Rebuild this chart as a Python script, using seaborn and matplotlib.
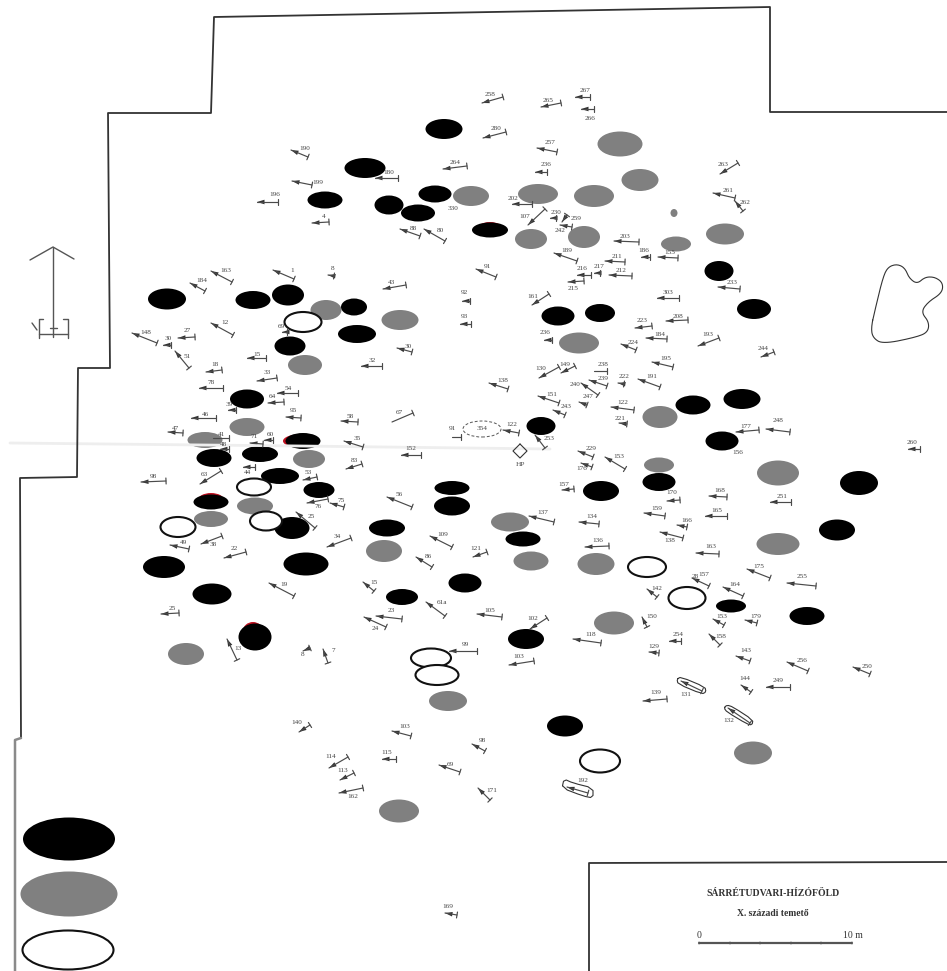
import numpy as np
import pandas as pd
import matplotlib.pyplot as plt
from matplotlib.path import Path
import seaborn as sns

DPI = 100

# graves: x, y, width, height
black_graves = [
    (167, 299, 38, 21), (253, 300, 35, 18), (288, 295, 32, 21), (354, 307, 26, 17), (357, 334, 38, 18),
    (290, 346, 31, 19), (247, 399, 34, 19), (303, 441, 35, 16), (214, 458, 35, 18), (260, 454, 36, 16),
    (280, 476, 38, 16), (319, 490, 31, 16), (211, 502, 35, 15), (292, 528, 35, 22), (306, 564, 45, 23),
    (164, 567, 42, 22), (212, 594, 39, 21), (255, 637, 33, 27), (387, 528, 36, 17), (452, 488, 35, 14),
    (452, 506, 36, 19), (402, 597, 32, 16), (465, 583, 33, 19), (444, 129, 37, 20), (365, 168, 41, 20),
    (325, 200, 35, 17), (389, 205, 29, 19), (435, 194, 33, 17), (418, 213, 34, 17), (490, 230, 36, 15),
    (558, 316, 33, 19), (600, 313, 30, 18), (719, 271, 29, 20), (754, 309, 34, 20), (541, 426, 29, 18),
    (693, 405, 35, 19), (742, 399, 37, 20), (722, 441, 33, 19), (659, 482, 33, 18), (601, 491, 36, 20),
    (859, 483, 38, 24), (837, 530, 36, 21), (523, 539, 35, 15), (731, 606, 30, 13), (807, 616, 35, 18),
    (526, 639, 36, 20), (565, 726, 36, 21), (69, 839, 92, 43),
]
grey_graves = [
    (326, 310, 31, 20), (400, 320, 37, 20), (305, 365, 34, 20), (247, 427, 35, 18), (205, 440, 35, 16),
    (309, 459, 32, 18), (255, 506, 36, 17), (211, 519, 34, 16), (384, 551, 36, 22), (186, 654, 36, 22),
    (448, 701, 38, 20), (399, 811, 40, 23), (471, 196, 36, 20), (620, 144, 45, 25), (640, 180, 37, 22),
    (538, 194, 40, 20), (594, 196, 40, 22), (531, 239, 32, 20), (584, 237, 32, 22), (674, 213, 7, 8),
    (676, 244, 30, 15), (725, 234, 38, 21), (579, 343, 40, 21), (660, 417, 35, 22), (659, 465, 30, 15),
    (778, 473, 42, 25), (778, 544, 43, 22), (510, 522, 38, 19), (531, 561, 35, 19), (596, 564, 37, 22),
    (614, 623, 40, 23), (753, 753, 38, 23), (69, 894, 97, 45),
]
open_graves = [
    (303, 322, 37, 20), (254, 487, 34, 17), (178, 527, 35, 20), (266, 521, 32, 19), (431, 658, 40, 19),
    (437, 675, 43, 20), (647, 567, 38, 20), (687, 598, 37, 22), (600, 761, 40, 23), (68, 950, 91, 39),
]
red_traces = [(490, 229, 26, 14), (211, 500, 26, 14), (253, 631, 20, 18), (299, 441, 32, 13)]

# orientation arrows: label, label x, label y, head x, head y, tail x, tail y
arrows = [
    ("1", 292, 271, 273, 270, 294, 279), ("8", 333, 269, 328, 275, 334, 276), ("163", 226, 271, 211, 271, 232, 282),
    ("184", 202, 281, 190, 283, 205, 291), ("43", 392, 282, 383, 289, 406, 285), ("12", 225, 323, 211, 323, 233, 335),
    ("148", 146, 333, 132, 333, 157, 343), ("30", 168, 338, 163, 345, 171, 345), ("27", 187, 331, 178, 338, 195, 337),
    ("51", 187, 357, 175, 351, 189, 368), ("69", 281, 327, 282, 332, 287, 332), ("30", 408, 347, 397, 348, 412, 352),
    ("15", 257, 354, 247, 358, 266, 358), ("32", 372, 361, 361, 366, 382, 366), ("18", 215, 365, 206, 372, 222, 370),
    ("33", 267, 373, 257, 381, 277, 378), ("78", 211, 383, 199, 388, 223, 388), ("54", 288, 389, 277, 393, 298, 393),
    ("64", 272, 397, 268, 403, 284, 402), ("39", 229, 404, 228, 410, 236, 410), ("46", 205, 414, 191, 418, 216, 418),
    ("95", 293, 411, 286, 417, 301, 418), ("58", 350, 417, 341, 421, 358, 422), ("47", 176, 428, 168, 432, 183, 433),
    ("41", 222, 434, 213, 438, 229, 438), ("48", 223, 445, 220, 449, 229, 449), ("71", 254, 437, 250, 443, 263, 444),
    ("60", 270, 434, 264, 440, 273, 440), ("35", 357, 439, 344, 441, 363, 447), ("152", 411, 449, 401, 455, 421, 455),
    ("83", 354, 461, 346, 469, 362, 464), ("98", 153, 477, 141, 482, 166, 481), ("63", 204, 474, 200, 484, 221, 471),
    ("44", 248, 472, 243, 467, 255, 467), ("53", 308, 473, 303, 480, 317, 477), ("76", 318, 506, 307, 503, 328, 499),
    ("75", 341, 501, 330, 503, 344, 507), ("56", 399, 495, 387, 497, 412, 507), ("25", 311, 517, 296, 512, 315, 528),
    ("34", 337, 537, 327, 547, 351, 538), ("38", 213, 544, 201, 544, 222, 536), ("49", 183, 543, 170, 545, 189, 549),
    ("22", 234, 549, 224, 558, 246, 552), ("19", 284, 584, 269, 583, 294, 596), ("109", 443, 535, 430, 536, 452, 547),
    ("86", 428, 557, 416, 557, 432, 567), ("15", 374, 582, 363, 582, 374, 591), ("23", 391, 611, 376, 616, 402, 619),
    ("24", 375, 629, 364, 617, 386, 627), ("61a", 442, 603, 426, 602, 445, 616), ("25", 172, 608, 161, 614, 179, 613),
    ("13", 238, 648, 227, 639, 237, 660), ("8", 303, 655, 303, 651, 310, 648), ("7", 333, 651, 323, 649, 328, 663),
    ("122", 512, 424, 503, 430, 519, 433), ("138", 503, 381, 489, 383, 508, 389), ("130", 541, 369, 539, 378, 559, 367),
    ("149", 565, 364, 561, 373, 575, 366), ("239", 603, 378, 589, 380, 607, 386), ("240", 575, 384, 581, 383, 598, 395),
    ("222", 624, 377, 618, 383, 624, 384), ("191", 652, 377, 638, 379, 660, 387), ("151", 552, 395, 538, 396, 559, 403),
    ("243", 566, 406, 553, 410, 565, 415), ("247", 588, 397, 579, 402, 587, 405), ("122", 623, 403, 611, 407, 634, 410),
    ("221", 620, 419, 619, 423, 627, 424), ("253", 549, 439, 535, 435, 545, 448), ("229", 591, 449, 578, 451, 593, 457),
    ("153", 619, 456, 605, 457, 625, 469), ("176", 582, 469, 581, 463, 592, 467), ("157", 564, 484, 562, 490, 574, 489),
    ("137", 543, 513, 529, 516, 554, 522), ("134", 592, 517, 579, 522, 599, 524), ("136", 598, 541, 585, 547, 609, 546),
    ("121", 476, 549, 473, 557, 487, 552), ("170", 672, 493, 667, 501, 680, 500), ("159", 657, 509, 644, 513, 665, 516),
    ("166", 687, 521, 677, 525, 687, 527), ("138", 670, 541, 660, 532, 683, 538), ("168", 720, 491, 709, 496, 727, 497),
    ("165", 717, 511, 705, 516, 727, 516), ("163", 711, 546, 696, 553, 719, 554), ("177", 746, 426, 736, 432, 759, 430),
    ("248", 778, 421, 766, 429, 790, 432), ("251", 782, 497, 770, 502, 791, 502), ("260", 912, 442, 908, 449, 920, 449),
    ("175", 759, 567, 747, 569, 770, 578), ("255", 802, 577, 787, 583, 816, 586), ("157", 704, 575, 692, 578, 709, 586),
    ("164", 735, 585, 723, 587, 743, 596), ("142", 657, 588, 647, 589, 657, 597), ("150", 652, 616, 642, 617, 647, 627),
    ("153", 722, 616, 713, 619, 724, 625), ("179", 756, 616, 745, 620, 757, 623), ("105", 490, 610, 477, 614, 502, 617),
    ("102", 533, 618, 530, 629, 547, 618), ("118", 591, 635, 573, 639, 601, 643), ("99", 465, 645, 449, 651, 477, 651),
    ("103", 519, 657, 509, 665, 534, 661), ("254", 678, 634, 669, 641, 681, 641), ("158", 721, 636, 709, 634, 720, 645),
    ("129", 654, 646, 649, 652, 659, 653), ("143", 746, 651, 736, 656, 750, 661), ("256", 802, 660, 787, 662, 808, 671),
    ("250", 867, 666, 853, 667, 870, 674), ("144", 745, 679, 741, 685, 751, 692), ("249", 778, 681, 766, 687, 790, 687),
    ("139", 656, 693, 643, 701, 667, 699), ("131", 686, 695, 681, 681, 702, 691), ("132", 729, 721, 728, 708, 750, 723),
    ("192", 583, 781, 567, 787, 588, 793), ("98", 482, 740, 472, 744, 485, 751), ("69", 450, 764, 439, 765, 460, 772),
    ("171", 492, 790, 478, 788, 490, 800), ("103", 405, 727, 392, 731, 411, 736), ("140", 297, 722, 299, 732, 310, 725),
    ("115", 387, 752, 382, 759, 396, 759), ("114", 331, 757, 329, 768, 348, 757), ("113", 343, 770, 340, 780, 354, 773),
    ("162", 353, 797, 339, 793, 363, 788), ("169", 448, 907, 445, 913, 457, 915), ("190", 305, 148, 291, 150, 308, 157),
    ("199", 318, 182, 292, 181, 312, 185), ("196", 275, 194, 257, 202, 278, 202), ("4", 324, 216, 312, 223, 329, 222),
    ("180", 389, 172, 375, 178, 398, 178), ("88", 413, 228, 400, 229, 420, 236), ("80", 440, 230, 424, 229, 445, 241),
    ("258", 490, 94, 482, 103, 503, 97), ("280", 496, 129, 483, 138, 506, 132), ("264", 455, 162, 443, 169, 467, 166),
    ("265", 548, 101, 541, 107, 561, 103), ("267", 585, 91, 575, 97, 590, 97), ("266", 590, 118, 581, 109, 594, 109),
    ("257", 550, 143, 537, 148, 557, 152), ("236", 546, 164, 535, 172, 547, 172), ("263", 723, 165, 720, 174, 738, 163),
    ("261", 728, 191, 713, 193, 735, 198), ("262", 745, 203, 735, 201, 743, 211), ("202", 513, 198, 512, 204, 532, 204),
    ("107", 525, 216, 528, 225, 545, 209), ("230", 556, 212, 550, 218, 556, 218), ("259", 576, 219, 562, 222, 567, 215),
    ("242", 560, 231, 560, 225, 572, 227), ("203", 625, 236, 614, 241, 639, 242), ("186", 644, 251, 641, 257, 650, 257),
    ("155", 670, 253, 658, 257, 678, 258), ("211", 617, 256, 605, 261, 625, 262), ("189", 567, 250, 554, 253, 577, 261),
    ("216", 582, 269, 577, 275, 591, 275), ("217", 599, 266, 594, 273, 600, 273), ("212", 621, 270, 609, 275, 632, 276),
    ("215", 573, 288, 568, 282, 584, 281), ("233", 732, 282, 718, 287, 740, 289), ("91", 487, 267, 476, 269, 496, 277),
    ("161", 533, 297, 532, 305, 549, 294), ("303", 668, 293, 657, 298, 679, 298), ("208", 678, 317, 666, 321, 688, 320),
    ("223", 642, 320, 635, 328, 652, 326), ("184", 660, 334, 646, 338, 667, 339), ("224", 633, 342, 621, 344, 636, 350),
    ("193", 708, 334, 698, 346, 719, 338), ("195", 666, 359, 652, 362, 673, 367), ("244", 763, 349, 761, 357, 774, 352),
    ("236", 545, 333, 544, 340, 552, 340), ("92", 464, 293, 462, 301, 470, 301), ("93", 464, 317, 460, 324, 471, 324),
]
# no arrow head on these: label, label x, label y, end x, end y, end x, end y
plain_bars = [
    ("67", 399, 412, 392, 422, 413, 413), ("238", 603, 365, 594, 371, 607, 371), ("91", 452, 429, 452, 437, 461, 437),
]
# labels standing alone
loose_labels = [("156", 738, 452), ("HP", 520, 464), ("354", 482, 429), ("330", 453, 208), ("28", 695, 577)]

site_border = [(21, 738), (20, 478), (77, 477), (78, 368), (110, 368), (108, 113), (211, 113),
               (214, 17), (770, 7), (770, 112), (947, 112)]
site_border_low = [(15, 971), (15, 740), (21, 738)]
title_box = [(589, 971), (589, 863), (947, 862)]
scan_streak = [(10, 443), (300, 446), (550, 449)]
pond = [(871, 328), (875, 310), (883, 277), (888, 267), (897, 264), (905, 268), (909, 278), (917, 284), (925, 277),
        (935, 277), (943, 283), (942, 293), (928, 302), (921, 312), (929, 322), (928, 332), (917, 337), (883, 344),
        (873, 338), (871, 328)]
capsule_131 = [(677, 679), (681, 677), (705, 687), (706, 692), (702, 694), (678, 684), (677, 679)]
capsule_132 = [(724, 708), (727, 705), (733, 707), (753, 720), (752, 725), (747, 724), (727, 712), (724, 708)]
capsule_192 = [(562, 788), (564, 779), (573, 783), (593, 788), (593, 798), (583, 796), (562, 788)]
diamond_hp = [(520, 444), (527, 451), (520, 458), (513, 451), (520, 444)]
north_arrow = [
    [(53, 247), (53, 337)], [(30, 260), (53, 247), (74, 259)],
    [(43, 319), (39, 319), (39, 338)], [(63, 319), (68, 319), (68, 338)],
    [(39, 334), (68, 334)], [(50, 328), (57, 328)], [(32, 323), (37, 330)],
]
scale_bar = [(699, 943), (852, 943)]
scale_ticks = [699, 730, 760, 791, 821, 852]


def smooth(points, rounds=3):
    # corner cutting so the pond outline does not look polygonal
    pts = np.array(points, dtype=float)
    for _ in range(rounds):
        a, b = pts[:-1], pts[1:]
        pts = np.column_stack([0.75 * a + 0.25 * b, 0.25 * a + 0.75 * b]).reshape(-1, 2)
        pts = np.vstack([pts, pts[0]])
    return pts


def px_size(path):
    # size for scatter so that a marker path given in pixels comes out in pixels
    return (2 * np.abs(path.vertices).max() * 72 / DPI) ** 2


def draw_markers(ax, xs, ys, paths, **kws):
    df = pd.DataFrame({"x": xs, "y": ys, "id": [str(i) for i in range(len(xs))]})
    markers = dict(zip(df["id"], paths))
    sizes = np.array([px_size(p) for p in paths])
    sns.scatterplot(data=df, x="x", y="y", style="id", markers=markers, s=sizes, legend=False, ax=ax, **kws)


def draw_graves(ax, graves, **kws):
    g = pd.DataFrame(graves, columns=["x", "y", "w", "h"])
    paths = []
    for w, h in zip(g["w"], g["h"]):
        paths.append(Path(Path.unit_circle().vertices * [w / 2, h / 2], Path.unit_circle().codes))
    draw_markers(ax, g["x"], g["y"], paths, **kws)


def draw_lines(ax, segments, **kws):
    rows = [(i, x, y) for i, seg in enumerate(segments) for x, y in seg]
    df = pd.DataFrame(rows, columns=["unit", "x", "y"])
    sns.lineplot(data=df, x="x", y="y", units="unit", estimator=None, sort=False, errorbar=None,
                 legend=False, ax=ax, **kws)


sns.set_theme(style="white")
plt.rcParams["font.family"] = ["Liberation Serif", "DejaVu Serif"]

fig = plt.figure(figsize=(9.47, 9.71), dpi=DPI)
ax = fig.add_axes([0, 0, 1, 1])

draw_lines(ax, [scan_streak], color="#eeeeee", linewidth=2)
draw_lines(ax, [site_border, title_box], color="#333333", linewidth=1.3)
draw_lines(ax, [site_border_low], color="#8a8a8a", linewidth=1.8)
draw_lines(ax, north_arrow, color="#555555", linewidth=1.0)
draw_lines(ax, [smooth(pond), smooth(capsule_131, 1), smooth(capsule_132, 1), smooth(capsule_192, 1), diamond_hp],
           color="#333333", linewidth=0.8)

# arrow shafts with the cross bar at the tail end
shafts = []
for _, _, _, hx, hy, tx, ty in arrows + plain_bars:
    d = np.array([hx - tx, hy - ty], dtype=float)
    d /= np.hypot(*d)
    bar = np.array([-d[1], d[0]]) * 3
    shafts.append([(hx, hy), (tx, ty)])
    shafts.append([(tx - bar[0], ty - bar[1]), (tx + bar[0], ty + bar[1])])
draw_lines(ax, shafts, color="#4a4a4a", linewidth=0.85)

heads = []
for _, _, _, hx, hy, tx, ty in arrows:
    u = np.array([hx - tx, ty - hy], dtype=float)  # screen y goes up, the plan's y goes down
    u /= np.hypot(*u)
    n = np.array([-u[1], u[0]])
    heads.append(Path([(0, 0), -7.5 * u + 2.3 * n, -7.5 * u - 2.3 * n, (0, 0)],
                      [Path.MOVETO, Path.LINETO, Path.LINETO, Path.CLOSEPOLY]))
draw_markers(ax, [a[3] for a in arrows], [a[4] for a in arrows], heads, color="#333333", edgecolor="none", linewidth=0)

# dashed outline of grave 354
dashed = pd.DataFrame({"x": [482], "y": [429], "id": ["a"]})
sns.scatterplot(data=dashed, x="x", y="y", style="id", markers={"a": Path(Path.unit_circle().vertices * [19, 8],
                Path.unit_circle().codes)}, s=[px_size(Path(Path.unit_circle().vertices * [19, 8]))], color="white",
                edgecolor="#555555", linewidth=0.7, linestyle=(0, (3, 2)), legend=False, ax=ax)

draw_graves(ax, red_traces, color="#c01020", edgecolor="none", linewidth=0)
draw_graves(ax, grey_graves, color="#808080", edgecolor="none", linewidth=0)
draw_graves(ax, black_graves, color="#000000", edgecolor="none", linewidth=0)
draw_graves(ax, open_graves, color="white", edgecolor="#111111", linewidth=1.5)

for label, lx, ly, *_ in arrows + plain_bars:
    ax.text(lx, ly, label, fontsize=5.2, color="#444444", ha="center", va="center")
for label, lx, ly in loose_labels:
    ax.text(lx, ly, label, fontsize=5.2, color="#444444", ha="center", va="center")

ax.text(773, 893, "SÁRRÉTUDVARI-HÍZÓFÖLD", fontsize=7, fontweight="bold", color="#333333", ha="center", va="center")
ax.text(773, 913, "X. századi temető", fontsize=6.9, fontweight="bold", color="#333333", ha="center", va="center")
ax.text(699, 936, "0", fontsize=7, color="#333333", ha="center", va="center")
ax.text(853, 935, "10 m", fontsize=7, color="#333333", ha="center", va="center")
draw_lines(ax, [scale_bar], color="#555555", linewidth=1.6)
sns.scatterplot(x=scale_ticks, y=[943] * len(scale_ticks), marker="|", s=8, color="#333333", legend=False, ax=ax)

ax.set_xlim(0, 947)
ax.set_ylim(971, 0)
ax.set_axis_off()

plt.savefig("out.png", dpi=DPI, facecolor="white")
